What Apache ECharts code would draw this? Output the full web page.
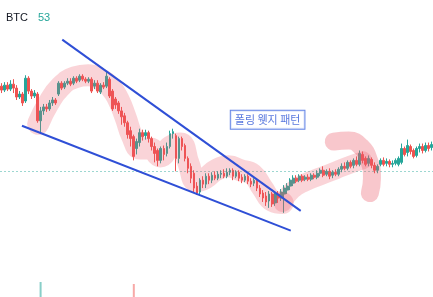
<!DOCTYPE html>
<html>
<head>
<meta charset="utf-8">
<script src="https://cdn.jsdelivr.net/npm/echarts@6/dist/echarts.min.js"></script>
<style>
  html, body { margin: 0; padding: 0; background: #fff; }
  #chart { width: 433px; height: 297px; }
</style>
</head>
<body>
<div id="chart"></div>
<script>
// Candles: [open, close, low, high]
const candles = [
  [213,209,206,216],[209,214,207,217],[214,210,208,217],[210,215,208,219],[215,211,206,220],
  [211,202,199,214],[202,205,200,208],[205,196,193,207],[198,221,196,224],[221,208,205,223],
  [208,203,200,210],[203,206,201,209],[205,178,176,207],[178,188,166,192],[188,192,184,195],
  [192,190,187,195],[190,196,188,199],[196,199,193,202],[199,196,194,201],[205,216,203,218],
  [216,211,209,218],[212,216,210,218],[216,218,214,221],[218,215,213,221],[216,221,214,223],
  [221,218,216,223],[219,223,217,225],[223,220,218,225],[220,218,216,222],[218,220,216,222],
  [220,208,206,222],[213,216,210,219],[216,208,206,219],[207,214,205,216],[214,212,210,217],
  [213,223,211,228],[220,203,201,222],[208,190,188,210],[200,194,190,202],[196,188,185,198],
  [188,182,174,192],[183,176,172,186],[176,164,160,178],[168,160,152,172],[162,142,138,164],
  [150,157,144,160],[156,166,152,170],[166,162,158,169],[163,166,159,169],[166,160,156,168],
  [160,152,148,162],[152,145,136,156],[148,138,132,150],[138,150,135,152],[150,144,138,153],
  [145,152,142,156],[152,165,150,168],[165,167,160,170],[163,140,127,165],[140,160,135,162],
  [160,152,148,162],[153,140,137,155],[140,130,125,142],[132,120,115,135],[125,110,106,128],
  [112,105,103,116],[106,118,103,120],[118,114,110,122],[114,122,110,125],[122,118,114,125],
  [118,123,115,126],[123,120,118,127],[120,124,118,127],[124,125,120,128],[125,122,120,129],
  [122,126,120,130],[126,128,123,130],[128,122,118,130],[122,126,120,128],[126,120,117,128],
  [121,118,115,124],[118,122,116,124],[122,117,114,124],[117,114,111,120],[115,118,112,120],
  [118,110,107,120],[110,104,101,113],[105,100,96,108],[102,96,92,106],[97,104,90,107],
  [104,94,91,106],[95,104,92,107],[104,100,95,107],[100,106,97,109],[104,110,85,113],
  [108,112,104,115],[112,118,108,120],[115,120,112,123],[120,117,115,123],[118,122,116,124],
  [122,118,116,124],[119,121,117,123],[121,119,117,124],[119,123,117,125],[123,121,119,125],
  [121,125,119,128],[125,128,122,130],[128,123,121,132],[124,127,122,129],[127,122,119,130],
  [123,126,120,128],[126,124,122,129],[124,129,122,131],[129,132,126,135],[132,130,128,136],
  [130,136,128,138],[136,132,130,138],[133,138,130,140],[138,134,132,142],[134,145,132,148],
  [144,138,135,147],[140,134,132,142],[135,140,132,143],[139,133,130,141],[133,128,125,136],
  [128,132,125,134],[134,138,132,140],[138,134,132,141],[135,137,132,140],[137,134,131,139],
  [134,135,131,138],[135,138,133,140],[134,140,132,142],[136,150,134,155],[150,144,142,152],
  [146,153,142,159],[152,147,144,154],[148,142,140,150],[143,150,141,152],[150,152,146,155],
  [152,148,145,155],[148,153,146,156],[153,150,147,156],[151,154,148,157]
];
const categories = candles.map((_, i) => String(i + 1));

// Volume (only the two bars that rise into view)
const volumeIndex = [13, 44];
const volumeValue = [15, 13];

// Falling wedge boundaries: [candle index, price]
const upperLine = [[20.2, 260], [99.5, 87]];
const lowerLine = [[6.8, 173], [96.2, 67]];

// Support level
const supportLevel = 127;

// Hand-drawn highlight strokes: [candle index, price]
const strokeA = [
  [12.2,175],[15.5,195],[19.5,212],[24.5,222],[28.8,224],[32.8,220],[36.2,212],[38.8,200],
  [41.2,182],[43.5,162],[46.2,150],[49.5,150],[52.8,142],[56.2,152],[59.5,155],[62.2,135],
  [64.8,117],[67.8,120],[71.2,128],[75.5,132],[79.5,128],[83.5,124],[86.8,110],[90.2,97],[93.5,95]
];
const strokeB = [
  [93.5,95],[96.8,108],[101.2,116],[106.2,122],[111.2,128],[116.2,134],[120.2,138]
];
const strokeHook = [
  [110.5,157],[115.5,158],[119.5,152],[122.2,138],[123.2,120],[122.5,105]
];

// Pattern caption position: [candle index, price]
const captionText = '폴링 웻지 패턴';
const captionAt = [88.5, 179];

const UP = '#26a69a';
const DOWN = '#ef5350';
const BLUE = '#2f4fd6';

const volumeData = categories.map((_, i) => {
  const k = volumeIndex.indexOf(i);
  if (k < 0) return '-';
  const c = candles[i];
  return {
    value: volumeValue[k],
    itemStyle: { color: c[1] >= c[0] ? 'rgba(38,166,154,0.55)' : 'rgba(239,83,80,0.5)' }
  };
});

const strokeSeries = (data, width, alpha) => ({
  type: 'line',
  xAxisIndex: 2,
  yAxisIndex: 0,
  data: data,
  smooth: 0.5,
  symbol: 'none',
  silent: true,
  z: 5,
  lineStyle: { width: width, color: 'rgba(235,90,105,' + alpha + ')', cap: 'round', join: 'round' }
});

const chart = echarts.init(document.getElementById('chart'), null, { renderer: 'canvas' });
chart.setOption({
  animation: false,
  backgroundColor: '#ffffff',
  title: {
    left: 1,
    top: 4,
    text: '{a|BTC}  {b|53}',
    textStyle: {
      rich: {
        a: { fontFamily: 'Liberation Sans, Arial, sans-serif', fontSize: 11, fontWeight: 'normal', color: '#131722' },
        b: { fontFamily: 'Liberation Sans, Arial, sans-serif', fontSize: 11, fontWeight: 'normal', color: '#26a69a' }
      }
    }
  },
  grid: [
    { left: 0, right: 0, top: 0, height: 300 },
    { left: 0, right: 0, top: 267, height: 30 }
  ],
  xAxis: [
    { type: 'category', data: categories, gridIndex: 0, show: false, boundaryGap: true },
    { type: 'category', data: categories, gridIndex: 1, show: false, boundaryGap: true },
    { type: 'value', gridIndex: 0, show: false, min: -0.5, max: candles.length - 0.5 }
  ],
  yAxis: [
    { type: 'value', gridIndex: 0, min: 0, max: 300, show: false, splitLine: { show: false } },
    { type: 'value', gridIndex: 1, min: 0, max: 30, show: false, splitLine: { show: false } }
  ],
  series: [
    {
      type: 'candlestick',
      xAxisIndex: 0,
      yAxisIndex: 0,
      data: candles,
      barWidth: '75%',
      z: 3,
      itemStyle: {
        color: UP, color0: DOWN, borderColor: UP, borderColor0: DOWN, borderWidth: 1
      },
      markLine: {
        silent: true,
        symbol: 'none',
        label: { show: false },
        lineStyle: { color: 'rgba(38,166,154,0.45)', type: [2, 2], width: 1 },
        data: [{ yAxis: supportLevel }]
      }
    },
    {
      type: 'bar',
      xAxisIndex: 1,
      yAxisIndex: 1,
      data: volumeData,
      barWidth: 2
    },
    strokeSeries(strokeA, 22, 0.26),
    strokeSeries(strokeB, 18, 0.26),
    strokeSeries(strokeHook, 18, 0.34),
    {
      type: 'line', xAxisIndex: 2, yAxisIndex: 0, data: upperLine, symbol: 'none', z: 6,
      lineStyle: { color: BLUE, width: 2 }
    },
    {
      type: 'line', xAxisIndex: 2, yAxisIndex: 0, data: lowerLine, symbol: 'none', z: 6,
      lineStyle: { color: BLUE, width: 2 }
    },
    {
      type: 'scatter', xAxisIndex: 2, yAxisIndex: 0, data: [captionAt], symbolSize: 0, z: 7,
      label: {
        show: true,
        position: 'inside',
        formatter: captionText,
        fontFamily: 'Noto Sans CJK KR, sans-serif',
        fontSize: 11,
        color: '#2f56d6',
        backgroundColor: '#ffffff',
        borderColor: '#3d66e0',
        borderWidth: 1,
        padding: [4, 4, 3, 4]
      }
    }
  ]
});
</script>
</body>
</html>
